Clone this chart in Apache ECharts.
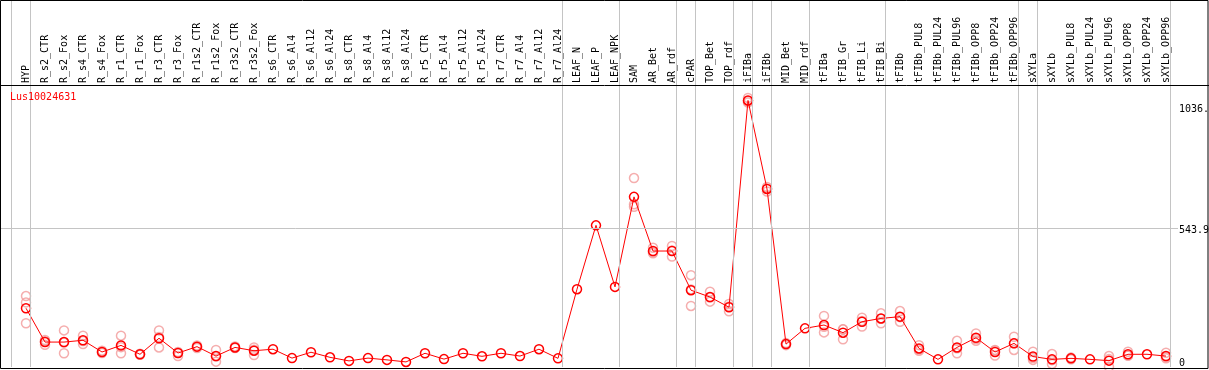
<!DOCTYPE html>
<html>
<head>
<meta charset="utf-8">
<script src="https://cdn.jsdelivr.net/npm/echarts@6/dist/echarts.min.js"></script>
<style>
  html, body { margin: 0; padding: 0; background: #fff; }
  #chart { width: 1209px; height: 370px; }
</style>
</head>
<body>
<div id="chart"></div>
<script>
const geneName = 'Lus10024631';

const categories = [
  'HYP','R_s2_CTR','R_s2_Fox','R_s4_CTR','R_s4_Fox','R_r1_CTR','R_r1_Fox','R_r3_CTR','R_r3_Fox',
  'R_r1s2_CTR','R_r1s2_Fox','R_r3s2_CTR','R_r3s2_Fox','R_s6_CTR','R_s6_Al4','R_s6_Al12','R_s6_Al24',
  'R_s8_CTR','R_s8_Al4','R_s8_Al12','R_s8_Al24','R_r5_CTR','R_r5_Al4','R_r5_Al12','R_r5_Al24',
  'R_r7_CTR','R_r7_Al4','R_r7_Al12','R_r7_Al24','LEAF_N','LEAF_P','LEAF_NPK','SAM','AR_Bet','AR_rdf',
  'cPAR','TOP_Bet','TOP_rdf','iFIBa','iFIBb','MID_Bet','MID_rdf','tFIBa','tFIB_Gr','tFIB_Li','tFIB_Bi',
  'tFIBb','tFIBb_PUL8','tFIBb_PUL24','tFIBb_PUL96','tFIBb_OPP8','tFIBb_OPP24','tFIBb_OPP96',
  'sXYLa','sXYLb','sXYLb_PUL8','sXYLb_PUL24','sXYLb_PUL96','sXYLb_OPP8','sXYLb_OPP24','sXYLb_OPP96'
];

const meanValues = [
  231, 98, 98, 105, 59, 85, 50, 113, 55,
  80, 43, 77, 64, 70, 35, 58, 38,
  24, 35, 28, 20, 54, 31, 54, 42,
  54, 43, 70, 34, 306, 557, 315, 669, 456, 456,
  302, 275, 235, 1048, 700, 90, 152, 165, 135, 178, 191,
  198, 73, 30, 77, 115, 59, 93,
  41, 30, 34, 30, 25, 50, 50, 43
];

const rep1 = [
  279, 106, 144, 123, 64, 123, 52, 144, 59,
  85, 67, 81, 77, null, null, null, null,
  null, null, null, null, null, null, null, null,
  null, null, null, null, null, null, null, 743, 469, 476,
  361, 296, 248, 1058, 708, 94, null, 201, 148, 194, 211,
  220, 86, null, 103, 132, 67, 119,
  60, 51, 35, null, 43, 60, null, 56
];
const rep2 = [
  172, 87, 54, 90, 55, 54, 48, 77, 43,
  75, 21, 75, 47, null, null, null, null,
  null, null, null, null, null, null, null, null,
  null, null, null, null, null, null, null, 630, 447, 434,
  240, 257, 219, 1040, 690, 86, null, 136, 109, 159, 172,
  178, 64, null, 54, 103, 45, 67,
  28, 12, 30, null, 1, 45, null, 34
];
const rep3 = [
  254, 101, 96, 102, 58, 78, 50, 118, 55,
  80, 41, 77, 68, null, null, null, null,
  null, null, null, null, null, null, null, null,
  null, null, null, null, null, null, null, 640, 452, 458,
  305, 273, 238, 1046, 702, 90, null, 158, 148, 181, 190,
  196, 70, null, 74, 110, 65, 93,
  35, 27, 37, null, 31, 45, null, 39
];

// indices of categories after which a group separator is drawn (-1 = before the first)
const groupBreaks = [-1, 0, 28, 31, 34, 35, 37, 38, 39, 41, 45, 52, 53, 60];

const yTickValues = [0, 543.9, 1036];
const yTickLabels = ['0', '543.9', '1036.'];

const FONT = 'DejaVu Sans Mono';

const repData = [];
[rep1, rep2, rep3].forEach(r => r.forEach((v, i) => { if (v != null) repData.push([i, v]); }));
const meanData = meanValues.map((v, i) => [i, v]);

const sepLines = groupBreaks.map(b => ({ xAxis: b + 0.23 }));
const lastTick = yTickValues.length - 1;
const yLines = yTickValues.map((v, k) => {
  const isEdge = (k === 0 || k === lastTick);
  return {
    yAxis: v,
    lineStyle: isEdge ? { color: 'rgba(0,0,0,0)', width: 0 } : {},
    label: {
      show: true,
      position: 'end',
      distance: 1,
      formatter: yTickLabels[k],
      fontFamily: FONT,
      fontSize: 10,
      color: '#000',
      offset: k === lastTick ? [0, 6] : (k === 0 ? [0, -4] : [0, 2])
    }
  };
});

const chart = echarts.init(document.getElementById('chart'), null, { renderer: 'canvas' });
chart.setOption({
  animation: false,
  backgroundColor: '#fff',
  title: {
    text: geneName,
    left: 10, top: 92, padding: 0,
    textStyle: { fontFamily: FONT, fontSize: 10, fontWeight: 'normal', color: '#ff0000' }
  },
  grid: { left: 1, right: 31, top: 0, bottom: 3 },
  xAxis: {
    type: 'value',
    position: 'top',
    offset: -85,
    min: -25 / 19,
    max: (1178 - 26) / 19,
    axisLine: { show: false },
    axisTick: { show: false },
    splitLine: { show: false },
    axisLabel: {
      customValues: categories.map((_, i) => i),
      formatter: v => categories[Math.round(v)] || '',
      rotate: 90,
      margin: 2,
      fontFamily: FONT,
      fontSize: 10,
      color: '#000',
      showMinLabel: true,
      showMaxLabel: true,
      hideOverlap: false
    }
  },
  yAxis: {
    type: 'value',
    min: 0,
    max: 1443,
    axisLine: { show: false },
    axisTick: { show: false },
    axisLabel: { show: false },
    splitLine: { show: false }
  },
  graphic: [
    { type: 'rect', z: 100, silent: true,
      shape: { x: 0.5, y: 0.5, width: 1207.5, height: 368 },
      style: { fill: null, stroke: '#000', lineWidth: 1 } },
    { type: 'line', z: 100, silent: true,
      shape: { x1: 0, y1: 85.5, x2: 1209, y2: 85.5 },
      style: { stroke: '#000', lineWidth: 1 } }
  ],
  series: [
    {
      name: 'replicates',
      type: 'scatter',
      z: 2,
      silent: true,
      symbol: 'circle',
      symbolSize: 9,
      itemStyle: { color: 'rgba(255,255,255,0)', borderColor: '#f29a9a', borderWidth: 1.5 },
      data: repData,
      markLine: {
        silent: true,
        symbol: ['none', 'none'],
        animation: false,
        lineStyle: { color: '#c4c4c4', width: 1, type: 'solid' },
        label: { show: false },
        data: sepLines.concat(yLines)
      }
    },
    {
      name: geneName,
      type: 'line',
      z: 3,
      silent: true,
      symbol: 'circle',
      symbolSize: 9,
      lineStyle: { color: '#ff0000', width: 1 },
      itemStyle: { color: 'rgba(255,255,255,0)', borderColor: '#ff0000', borderWidth: 1.5 },
      data: meanData
    }
  ]
});
</script>
</body>
</html>
